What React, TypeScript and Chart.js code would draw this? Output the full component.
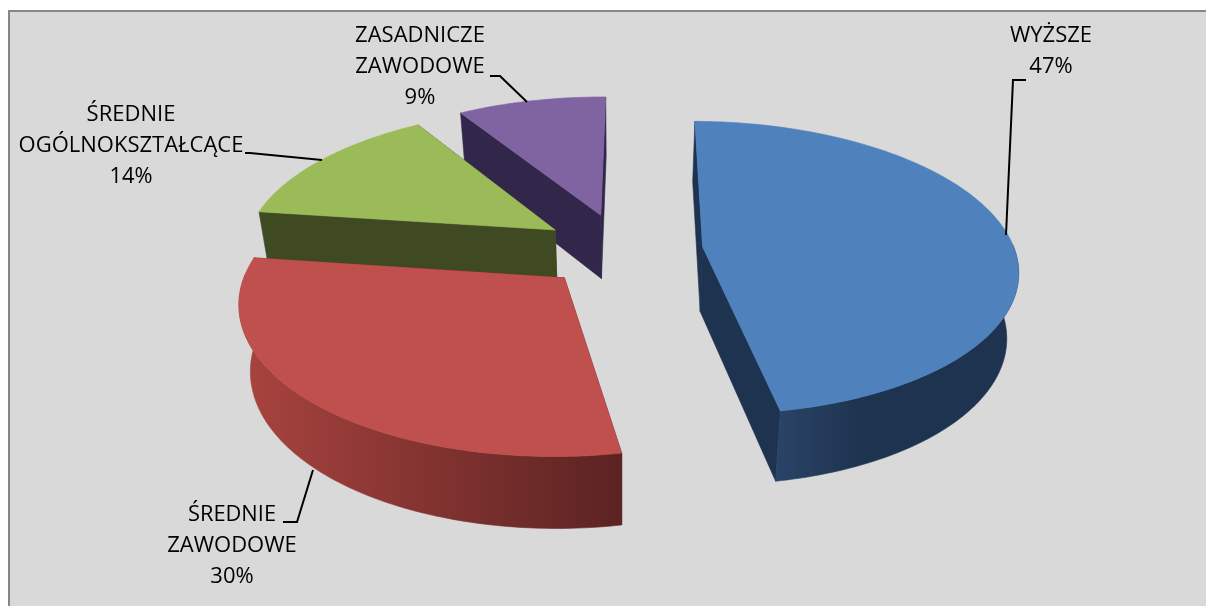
import React, { useEffect, useRef } from "react";
import { Chart, registerables } from "chart.js";

Chart.register(...registerables);

const categories = ["WYŻSZE", "ŚREDNIE ZAWODOWE", "ŚREDNIE OGÓLNOKSZTAŁCĄCE", "ZASADNICZE ZAWODOWE"];
const values = [47, 30, 14, 9];
const topColors = ["#4f81bd", "#c0504d", "#9bbb59", "#8064a2"];
const wallColors = ["#1e3350", "#5c2322", "#3f4a22", "#32264a"];
const rimFrom = ["#2a4468", "#a8433f", "#4a5a28", "#3a2c55"];
const rimTo = ["#1e3350", "#5c2322", "#3f4a22", "#32264a"];
const rimRange = [[775, 860], [245, 618], [260, 560], [450, 605]];
const paintOrder = [3, 2, 0, 1];

const labelLines = [["WYŻSZE"], ["ŚREDNIE", "ZAWODOWE"], ["ŚREDNIE", "OGÓLNOKSZTAŁCĄCE"], ["ZASADNICZE", "ZAWODOWE"]];
const labelCenter = [1051, 232, 131, 420];
const labelBaseline = [42, 521, 121, 42];
const labelWidths = [
  [86, 47],
  [88, 138, 45],
  [101, 226, 43],
  [132, 135, 33],
];
const leaders = [
  [[1006, 235], [1013, 80], [1026, 80]],
  [[313, 470], [297, 522], [283, 522]],
  [[322, 160], [250, 153], [245, 153]],
  [[527, 102], [500, 76], [490, 76]],
];

const X0 = 622;
const Y0 = 250;
const R = 312;
const H = 144.3;
const K = 0.143;
const EXPLODE = 0.26;
const ROTATION = 0.5;
const LINE_STEP = 31;

type Pt = [number, number];

const project = (x: number, z: number): Pt => {
  const s = 1 / (1 + K * z);
  return [X0 + R * x * s, Y0 - H * z * s];
};
const drop = ([x, y]: Pt): Pt => [x - (x - X0) * 0.03, y + 60 + (y - 115) * 0.035];

const poly = (ctx: CanvasRenderingContext2D, pts: Pt[], fill: string | CanvasGradient) => {
  ctx.beginPath();
  pts.forEach((p, i) => (i ? ctx.lineTo(p[0], p[1]) : ctx.moveTo(p[0], p[1])));
  ctx.closePath();
  ctx.fillStyle = fill;
  ctx.strokeStyle = fill;
  ctx.lineWidth = 0.6;
  ctx.fill();
  ctx.stroke();
};

const pie3d = {
  id: "pie3d",
  beforeDraw(chart: any) {
    const ctx: CanvasRenderingContext2D = chart.ctx;
    ctx.save();
    ctx.fillStyle = "#d9d9d9";
    ctx.fillRect(0, 0, chart.width, chart.height);
    ctx.fillStyle = "#ffffff";
    ctx.fillRect(0, 0, chart.width, 10);
    ctx.fillRect(0, 0, 8, chart.height);
    ctx.fillStyle = "#868686";
    ctx.fillRect(8, 10, chart.width - 8, 2);
    ctx.fillRect(8, 10, 2, chart.height - 10);
    ctx.restore();
  },
  beforeDatasetsDraw(chart: any) {
    const ctx: CanvasRenderingContext2D = chart.ctx;
    const arcs = chart.getDatasetMeta(0).data;
    ctx.save();
    paintOrder.forEach((i) => {
      const arc = arcs[i];
      const a0 = arc.startAngle;
      const a1 = arc.endAngle;
      const mid = (a0 + a1) / 2;
      const ox = EXPLODE * Math.cos(mid);
      const oz = -EXPLODE * Math.sin(mid);
      const apex = project(ox, oz);
      const rim: Pt[] = [];
      const front: Pt[] = [];
      const n = Math.ceil(((a1 - a0) * 180) / Math.PI);
      for (let j = 0; j <= n; j++) {
        const a = a0 + ((a1 - a0) * j) / n;
        const p = project(ox + Math.cos(a), oz - Math.sin(a));
        rim.push(p);
        if (Math.sin(a) > -0.03) front.push(p);
      }
      const first = rim[0];
      const last = rim[rim.length - 1];
      poly(ctx, [apex, first, drop(first), drop(apex)], wallColors[i]);
      poly(ctx, [apex, last, drop(last), drop(apex)], wallColors[i]);
      if (front.length > 1) {
        const grad = ctx.createLinearGradient(rimRange[i][0], 0, rimRange[i][1], 0);
        grad.addColorStop(0, rimFrom[i]);
        grad.addColorStop(1, rimTo[i]);
        poly(ctx, [...front, ...front.slice().reverse().map(drop)], grad);
      }
      poly(ctx, [apex, ...rim], arc.options.backgroundColor);
    });
    ctx.restore();
    return false;
  },
  afterDraw(chart: any) {
    const ctx: CanvasRenderingContext2D = chart.ctx;
    ctx.save();
    ctx.strokeStyle = "#000000";
    ctx.lineWidth = 2;
    leaders.forEach((pts) => {
      ctx.beginPath();
      pts.forEach((p, i) => (i ? ctx.lineTo(p[0], p[1]) : ctx.moveTo(p[0], p[1])));
      ctx.stroke();
    });
    ctx.fillStyle = "#000000";
    ctx.font = "22px 'Open Sans'";
    ctx.textAlign = "center";
    ctx.textBaseline = "alphabetic";
    labelLines.forEach((lines, i) => {
      const rows = [...lines, `${values[i]}%`];
      rows.forEach((t, r) => {
        ctx.fillText(t, labelCenter[i], labelBaseline[i] + r * LINE_STEP, labelWidths[i][r]);
      });
    });
    ctx.restore();
  },
};

export default function App() {
  const ref = useRef<HTMLCanvasElement>(null);
  useEffect(() => {
    const chart = new Chart(ref.current as HTMLCanvasElement, {
      type: "pie",
      data: {
        labels: categories,
        datasets: [{ data: values, backgroundColor: topColors, borderWidth: 0 }],
      },
      options: {
        animation: false,
        responsive: false,
        rotation: ROTATION,
        plugins: { legend: { display: false }, tooltip: { enabled: false } },
      },
      plugins: [pie3d],
    } as any);
    return () => chart.destroy();
  }, []);
  return (
    <div style={{ position: "fixed", left: 0, top: 0, width: 1206, height: 606 }}>
      <canvas ref={ref} width={1206} height={606} style={{ display: "block" }} />
    </div>
  );
}
